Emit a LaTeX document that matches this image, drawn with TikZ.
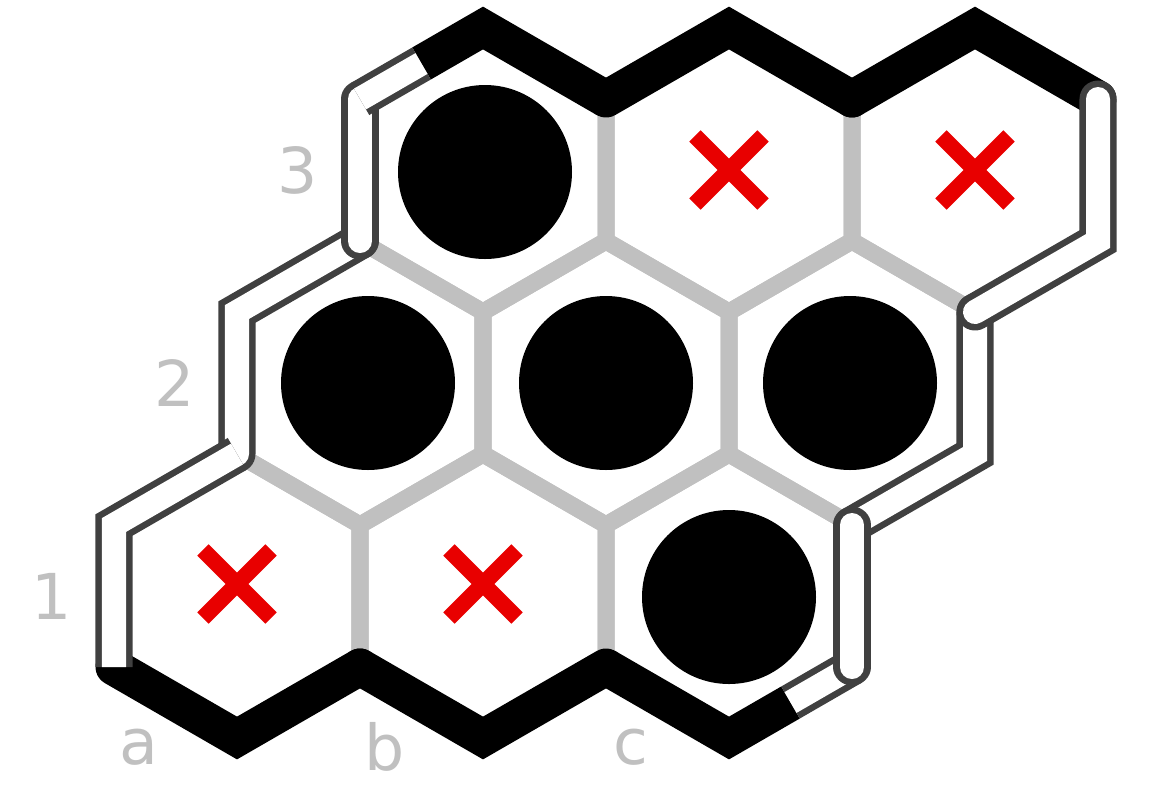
\documentclass[tikz,border=0pt]{standalone}
\usepackage{fontspec}
\setmainfont{DejaVu Sans}
\usepackage{tikz}
\usetikzlibrary{calc,shapes.misc}
\usepackage{xcolor}
\definecolor{gridgray}{RGB}{192,192,192}
\definecolor{edgegray}{RGB}{64,64,64}
\definecolor{crossred}{RGB}{232,0,0}

\begin{document}
\begin{tikzpicture}[
    x=0.01cm,y=-0.01cm,
    gridline/.style={draw=gridgray,line width=0.17cm,line join=miter},
    blackedge/.style={draw=black,line width=0.37cm,line join=miter,line cap=round},
    whiteedge/.style={draw=edgegray,line width=0.065cm,double=white,double distance=0.24cm,line join=miter},
    stone/.style={fill=black},
    xmark/.style={cross out,draw=crossred,line width=0.16cm,minimum size=0.68cm,inner sep=0pt,outer sep=0pt},
    coordlabel/.style={text=gridgray,font=\fontsize{18}{22}\selectfont,inner sep=0pt}
]
\useasboundingbox (0,0) rectangle (1151,784);
% cells, h<col><row>
\foreach \i in {0,1,2}
  \foreach \j in {0,1,2} {
    \coordinate (h\i\j) at ({237+246*\i+123*\j},{596-213*\j});
    \draw[gridline,shift={(h\i\j)}] (0,-142) -- (123,-71) -- (123,71) -- (0,142) -- (-123,71) -- (-123,-71) -- cycle;
  }
% black borders
\draw[blackedge,shift={(h00)}] (-123,71) -- (0,142) -- (123,71);
\draw[blackedge,shift={(h10)}] (-123,71) -- (0,142) -- (123,71);
\draw[blackedge,line cap=butt,shift={(h20)}] (-123,71) -- (0,142) -- (61.5,106.5);
\draw[blackedge,line cap=butt,shift={(h02)}] (-61.5,-106.5) -- (0,-142) -- (123,-71);
\draw[blackedge,shift={(h12)}] (-123,-71) -- (0,-142) -- (123,-71);
\draw[blackedge,shift={(h22)}] (-123,-71) -- (0,-142) -- (123,-71);
% white borders
\draw[whiteedge,line cap=round,shift={(h01)}] (-123,71) -- (-123,-71) -- (0,-142);
\draw[whiteedge,shift={(h00)}] (-123,71) -- (-123,-71) -- (0,-142);
\draw[whiteedge,line cap=round,shift={(h02)}] (-123,71) -- (-123,-71);
\draw[whiteedge,shift={(h02)}] (-123,-71) -- (-61.5,-106.5);
\draw[whiteedge,line cap=round,shift={(h21)}] (123,-71) -- (123,71) -- (0,142);
\draw[whiteedge,line cap=round,shift={(h22)}] (123,-71) -- (123,71) -- (0,142);
\draw[whiteedge,shift={(h20)}] (123,71) -- (61.5,106.5);
\draw[whiteedge,line cap=round,shift={(h20)}] (123,-71) -- (123,71);
% stones
\fill[stone] ($(h02)+(2,2)$) circle[radius=87];
\fill[stone] ($(h01)+(8,0)$) circle[radius=87];
\fill[stone] (h11) circle[radius=87];
\fill[stone] ($(h21)+(-2,0)$) circle[radius=87];
\fill[stone] ($(h20)+(0,1)$) circle[radius=87];
\node[xmark,yshift=0.12cm] (x00) at (h00) {};
\node[xmark,yshift=0.12cm] (x10) at (h10) {};
\node[xmark] (x12) at (h12) {};
\node[xmark] (x22) at (h22) {};
% coordinates
\node[coordlabel] (l1) at ($(h00)+(-185,0)$) {1};
\node[coordlabel] (l2) at ($(h01)+(-185,0)$) {2};
\node[coordlabel] (l3) at ($(h02)+(-185,0)$) {3};
\node[coordlabel] (la) at ($(h00)+(-98,151)$) {a};
\node[coordlabel] (lb) at ($(h10)+(-98,151)$) {b};
\node[coordlabel] (lc) at ($(h20)+(-98,151)$) {c};
\end{tikzpicture}
\end{document}
